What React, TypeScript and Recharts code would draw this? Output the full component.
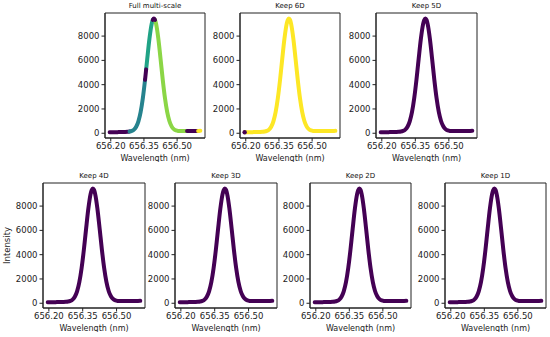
import { ComposedChart, Line, Scatter, XAxis, YAxis, ReferenceArea } from "recharts";

// spectrum around H-alpha
const wavelength = [
  656.195, 656.205, 656.215, 656.225, 656.235, 656.245, 656.255, 656.265, 656.275,
  656.285, 656.295, 656.305, 656.315, 656.325, 656.335, 656.345, 656.355, 656.36,
  656.365, 656.375, 656.385, 656.39, 656.395, 656.4, 656.405, 656.415, 656.425,
  656.435, 656.445, 656.455, 656.465, 656.475, 656.485, 656.495, 656.505, 656.515,
  656.525, 656.535, 656.545, 656.555, 656.565, 656.575, 656.585, 656.595, 656.605,
];
const intensity = [
  80, 85, 90, 88, 95, 98, 100, 105, 118,
  140, 190, 300, 535, 980, 1735, 2880, 4395, 5260,
  6133, 7792, 9000, 9332, 9446, 9334, 9004, 7800, 6145,
  4410, 2900, 1760, 1010, 570, 342, 236, 193, 180,
  180, 182, 185, 186, 188, 190, 192, 195, 198,
];

const xTicks = [656.2, 656.35, 656.5];
const yTicks = [0, 2000, 4000, 6000, 8000];
const titles = ["Full multi-scale", "Keep 6D", "Keep 5D", "Keep 4D", "Keep 3D", "Keep 2D", "Keep 1D"];

const X_DOMAIN: [number, number] = [656.174, 656.626];
const Y_DOMAIN: [number, number] = [-390, 9900];

const PURPLE = "#440154";
const TEAL = "#26838e";
const GREEN_TEAL = "#20a386";
const LIME = "#8bd646";
const YELLOW = "#fde725";
const FRAME = "#222";
const FONT = "DejaVu Sans, sans-serif";

const points = wavelength.map((x, i) => ({ x, y: intensity[i] }));

type Segment = { from: number; to: number; color: string };

// cluster colouring in the first panel, drawn in this order
const fullSegments: Segment[] = [
  { from: 656.195, to: 656.285, color: PURPLE },
  { from: 656.285, to: 656.355, color: TEAL },
  { from: 656.36, to: 656.39, color: GREEN_TEAL },
  { from: 656.4, to: 656.545, color: LIME },
  { from: 656.355, to: 656.36, color: PURPLE },
  { from: 656.39, to: 656.4, color: PURPLE },
  { from: 656.545, to: 656.595, color: PURPLE },
  { from: 656.595, to: 656.605, color: YELLOW },
];
const keep6Segments: Segment[] = [
  { from: 656.195, to: 656.605, color: YELLOW },
  { from: 656.195, to: 656.195, color: PURPLE },
];
const purpleSegments: Segment[] = [{ from: 656.195, to: 656.605, color: PURPLE }];

type PanelSpec = {
  title: string;
  left: number;
  top: number;
  width: number;
  height: number;
  segments: Segment[];
  yLabel?: string;
};

const panels: PanelSpec[] = [
  { title: titles[0], left: 105, top: 13, width: 100, height: 125, segments: fullSegments },
  { title: titles[1], left: 240, top: 13, width: 100, height: 125, segments: keep6Segments },
  { title: titles[2], left: 376, top: 13, width: 101, height: 125, segments: purpleSegments },
  { title: titles[3], left: 43, top: 183, width: 102, height: 125, segments: purpleSegments, yLabel: "Intensity" },
  { title: titles[4], left: 175, top: 183, width: 102, height: 125, segments: purpleSegments },
  { title: titles[5], left: 310, top: 183, width: 101, height: 125, segments: purpleSegments },
  { title: titles[6], left: 445, top: 183, width: 101, height: 125, segments: purpleSegments },
];

const AXIS_W = 43;
const XAXIS_H = 24;

function Panel({ spec }: { spec: PanelSpec }) {
  const chartW = AXIS_W + spec.width + 2;
  const chartH = spec.height + XAXIS_H + 1;
  return (
    <div style={{ position: "absolute", left: spec.left - AXIS_W, top: spec.top - 1 }}>
      <div
        style={{
          position: "absolute",
          left: AXIS_W,
          top: -11,
          width: spec.width,
          textAlign: "center",
          fontSize: 7,
          lineHeight: "10px",
          color: "#111",
          fontFamily: FONT,
        }}
      >
        {spec.title}
      </div>
      <ComposedChart width={chartW} height={chartH} margin={{ top: 1, right: 2, bottom: 0, left: 0 }}>
        <XAxis
          dataKey="x"
          type="number"
          domain={X_DOMAIN}
          ticks={xTicks}
          allowDataOverflow
          tickFormatter={(v: number) => v.toFixed(2)}
          tick={{ fontSize: 8.5, fill: "#222", fontFamily: FONT }}
          tickSize={3.5}
          tickMargin={1}
          stroke={FRAME}
          height={XAXIS_H}
          label={{ value: "Wavelength (nm)", position: "insideBottom", offset: 1, fontSize: 8, fill: "#222", fontFamily: FONT }}
        />
        <YAxis
          dataKey="y"
          type="number"
          domain={Y_DOMAIN}
          ticks={yTicks}
          allowDataOverflow
          tick={{ fontSize: 8.5, fill: "#222", fontFamily: FONT }}
          tickSize={3.5}
          tickMargin={2}
          stroke={FRAME}
          width={AXIS_W}
          label={
            spec.yLabel
              ? { value: spec.yLabel, angle: -90, position: "insideLeft", offset: 7, fontSize: 8.5, fill: "#222", fontFamily: FONT, style: { textAnchor: "middle" } }
              : undefined
          }
        />
        {spec.segments.map((s, i) => {
          const seg = points.filter((p) => p.x >= s.from - 1e-6 && p.x <= s.to + 1e-6);
          if (seg.length === 1) {
            return (
              <Scatter
                key={i}
                data={seg}
                dataKey="y"
                fill={s.color}
                isAnimationActive={false}
                shape={(props: any) => <circle cx={props.cx} cy={props.cy} r={2.2} fill={s.color} />}
              />
            );
          }
          return (
            <Line
              key={i}
              data={seg}
              dataKey="y"
              type="monotone"
              stroke={s.color}
              strokeWidth={4}
              strokeLinecap="round"
              dot={false}
              activeDot={false}
              isAnimationActive={false}
            />
          );
        })}
        <ReferenceArea
          x1={X_DOMAIN[0]}
          x2={X_DOMAIN[1]}
          y1={Y_DOMAIN[0]}
          y2={Y_DOMAIN[1]}
          fill="none"
          stroke={FRAME}
          strokeWidth={1}
        />
      </ComposedChart>
    </div>
  );
}

export default function App() {
  return (
    <div style={{ position: "absolute", left: 0, top: 0, width: 550, height: 337, background: "#fff", fontFamily: FONT }}>
      {panels.map((p) => (
        <Panel key={p.title} spec={p} />
      ))}
    </div>
  );
}
